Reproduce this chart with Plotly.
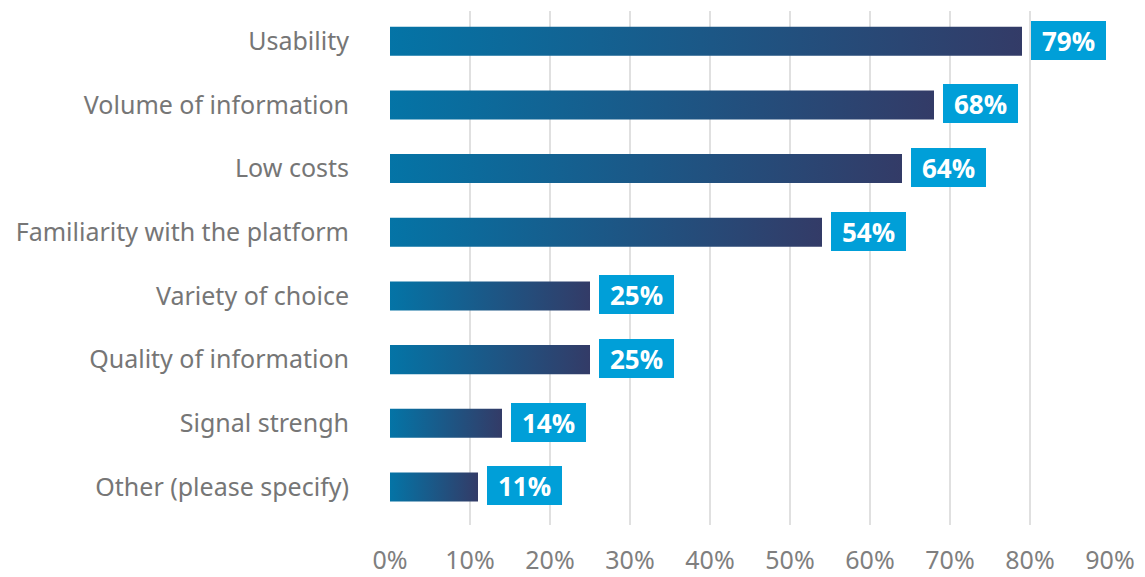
import plotly.graph_objects as go

# Survey answers, top to bottom
categories = [
    "Usability",
    "Volume of information",
    "Low costs",
    "Familiarity with the platform",
    "Variety of choice",
    "Quality of information",
    "Signal strengh",
    "Other (please specify)",
]
shares = [79, 68, 64, 54, 25, 25, 14, 11]

x_tick_values = [0, 10, 20, 30, 40, 50, 60, 70, 80, 90]
x_tick_labels = [f"{v}%" for v in x_tick_values]

BAR_START = "#0474a6"
BAR_END = "#333b67"
LABEL_BG = "#009fd8"
TEXT_GREY = "#767676"
GRID_GREY = "#e0e0e0"
HALF_BAR = 0.228

fig = go.Figure()

for row, (cat, value) in enumerate(zip(categories, shares)):
    # Each bar is a filled rectangle so it can carry a left-to-right gradient
    fig.add_trace(
        go.Scatter(
            x=[0, value, value, 0, 0],
            y=[row - HALF_BAR, row - HALF_BAR, row + HALF_BAR, row + HALF_BAR, row - HALF_BAR],
            mode="none",
            fill="toself",
            fillgradient=dict(
                type="horizontal",
                colorscale=[[0, BAR_START], [1, BAR_END]],
            ),
            hoverinfo="skip",
            showlegend=False,
            name=cat,
        )
    )
    fig.add_annotation(
        x=value,
        y=row,
        text=f"<b>{value}%</b>",
        xanchor="left",
        yanchor="middle",
        xshift=9,
        yshift=1,
        showarrow=False,
        bgcolor=LABEL_BG,
        borderpad=0,
        borderwidth=0,
        width=75,
        height=39,
        font=dict(color="white", size=26, family="Open Sans"),
    )

fig.update_layout(
    width=1145,
    height=577,
    margin=dict(l=390, r=35, t=11, b=52),
    plot_bgcolor="white",
    paper_bgcolor="white",
    font=dict(family="Noto Sans", color=TEXT_GREY),
    xaxis=dict(
        range=[0, 90],
        tickvals=x_tick_values,
        ticktext=x_tick_labels,
        showgrid=True,
        gridcolor=GRID_GREY,
        gridwidth=2,
        zeroline=False,
        showline=False,
        automargin=False,
        ticklabelstandoff=18,
        tickfont=dict(size=25, color="#7f7f7f"),
        fixedrange=True,
    ),
    yaxis=dict(
        range=[7.597, -0.475],
        tickvals=list(range(len(categories))),
        ticktext=categories,
        showgrid=False,
        zeroline=False,
        showline=False,
        automargin=False,
        ticklabelstandoff=40,
        tickfont=dict(size=25, color=TEXT_GREY),
        fixedrange=True,
    ),
)

fig.write_html("out.html")
